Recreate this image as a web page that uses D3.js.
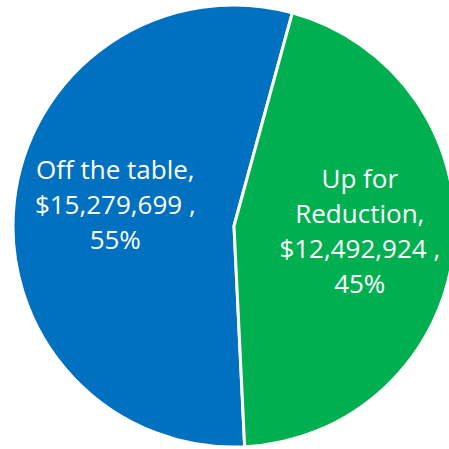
<!DOCTYPE html>
<html>
<head>
<meta charset="utf-8">
<script src="https://cdn.jsdelivr.net/npm/d3@7"></script>
<style>
  body { margin: 0; background: #fff; }
</style>
</head>
<body>
<div id="chart"></div>
<script>
// categories and values
var categories = ["Off the table", "Up for Reduction"];
var values = [15279699, 12492924];
var nameLines = [["Off the table,"], ["Up for", "Reduction,"]];
var colors = ["#0070C0", "#00B050"];

var width = 449, height = 449;
var cx = 234, cy = 226, radius = 221;
var lineH = 35;

var total = d3.sum(values);
var fmtMoney = d3.format(",");
var fmtPct = d3.format(".0%");

var svg = d3.select("#chart")
  .append("svg")
  .attr("width", width)
  .attr("height", height)
  .append("g")
  .attr("transform", "translate(" + cx + "," + cy + ")");

// green slice starts a little right of 12 o'clock, so blue starts after it
var gap = 0.267;
var start = gap + 2 * Math.PI * values[1] / total;

var pie = d3.pie()
  .sort(null)
  .startAngle(start)
  .endAngle(start + 2 * Math.PI);

var arc = d3.arc().innerRadius(0).outerRadius(radius);
var labelArc = d3.arc().innerRadius(123).outerRadius(123);

var slices = pie(values);

svg.selectAll("path")
  .data(slices)
  .enter()
  .append("path")
  .attr("d", arc)
  .style("fill", function(d, i) { return colors[i]; })
  .style("stroke", "#fff")
  .style("stroke-width", 3);

// labels
slices.forEach(function(d, i) {
  var lines = nameLines[i].concat(["$" + fmtMoney(values[i]) + " ,", fmtPct(values[i] / total)]);
  var c = labelArc.centroid(d);
  var lx = c[0] + 3.5;
  var firstBase = c[1] - 8 - (lines.length - 1) * lineH / 2 + 9;
  var t = svg.append("text")
    .attr("text-anchor", "middle")
    .style("font-family", "'Open Sans', 'Noto Sans', sans-serif")
    .style("font-size", "26px")
    .style("fill", "#fff");
  lines.forEach(function(l, j) {
    t.append("tspan")
      .attr("x", lx)
      .attr("y", firstBase + j * lineH)
      .text(l);
  });
});
</script>
</body>
</html>
